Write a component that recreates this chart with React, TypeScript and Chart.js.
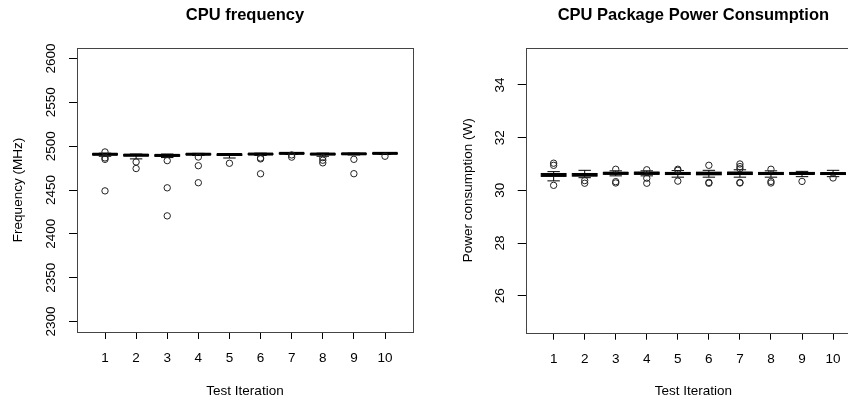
import React, { useEffect, useRef } from "react";
import { Chart, registerables } from "chart.js";

Chart.register(...registerables);

const FONT = "'Liberation Sans', Arial, Helvetica, sans-serif";

const iterations = [1, 2, 3, 4, 5, 6, 7, 8, 9, 10];

// CPU frequency (MHz) box statistics
const freqLow = [2488.5, 2485.5, 2487, 2489.5, 2486.5, 2489.5, 2490.5, 2488.5, 2490, 2490.5];
const freqQ1 = [2490, 2488.8, 2488.5, 2490.3, 2489.5, 2490.5, 2491.3, 2490.3, 2490.8, 2491.3];
const freqMedian = [2490.8, 2489.8, 2489.5, 2490.8, 2490.5, 2491, 2491.8, 2491, 2491.3, 2491.8];
const freqQ3 = [2491.5, 2490.5, 2490.2, 2491.3, 2491, 2491.5, 2492.2, 2491.5, 2491.7, 2492.2];
const freqHigh = [2492, 2491, 2491, 2491.8, 2491.5, 2492, 2492.5, 2492, 2492, 2492.5];
const freqOutliers = [
  [2493.4, 2486.6, 2485, 2449],
  [2482, 2474.5],
  [2483.5, 2452.5, 2420.5],
  [2487.6, 2477.7, 2458.3],
  [2480.5],
  [2486.5, 2485.5, 2468.5],
  [2490, 2487.5],
  [2487, 2484, 2481],
  [2485, 2468.6],
  [2488.5],
];
const freqTicks = [2300, 2350, 2400, 2450, 2500, 2550, 2600];

// CPU package power (W) box statistics
const powLow = [30.36, 30.48, 30.55, 30.55, 30.5, 30.5, 30.5, 30.5, 30.52, 30.52];
const powQ1 = [30.53, 30.54, 30.61, 30.61, 30.6, 30.59, 30.6, 30.6, 30.61, 30.6];
const powMedian = [30.58, 30.59, 30.65, 30.65, 30.64, 30.64, 30.65, 30.64, 30.64, 30.64];
const powQ3 = [30.64, 30.64, 30.68, 30.69, 30.68, 30.69, 30.69, 30.68, 30.68, 30.67];
const powHigh = [30.71, 30.76, 30.74, 30.74, 30.75, 30.76, 30.78, 30.74, 30.72, 30.76];
const powOutliers = [
  [31.03, 30.95, 30.19],
  [30.37, 30.27],
  [30.8, 30.33, 30.28],
  [30.78, 30.46, 30.27],
  [30.8, 30.76, 30.35],
  [30.95, 30.3, 30.27],
  [31.0, 30.9, 30.82, 30.3, 30.28],
  [30.8, 30.34, 30.28],
  [30.34],
  [30.47],
];
const powTicks = [26, 28, 30, 32, 34];

type Stats = { lo: number[]; q1: number[]; med: number[]; q3: number[]; hi: number[] };

function makeBoxPlugin(stats: Stats, title: string) {
  return {
    id: "boxes",
    beforeDatasetsDraw(chart: any) {
      const { ctx, chartArea, scales } = chart;
      const x = scales.x;
      const y = scales.y;
      ctx.save();
      ctx.beginPath();
      ctx.rect(chartArea.left, chartArea.top, chartArea.right - chartArea.left, chartArea.bottom - chartArea.top);
      ctx.clip();
      iterations.forEach((cat, i) => {
        const cx = x.getPixelForValue(cat);
        const hw = x.getPixelForValue(cat + 0.4) - cx;
        const sw = hw / 2;
        const yLo = y.getPixelForValue(stats.lo[i]);
        const yQ1 = y.getPixelForValue(stats.q1[i]);
        const yMed = y.getPixelForValue(stats.med[i]);
        const yQ3 = y.getPixelForValue(stats.q3[i]);
        const yHi = y.getPixelForValue(stats.hi[i]);
        ctx.strokeStyle = "#000";
        ctx.lineWidth = 1;
        ctx.setLineDash([4, 4]);
        ctx.beginPath();
        ctx.moveTo(cx, yHi);
        ctx.lineTo(cx, yQ3);
        ctx.moveTo(cx, yLo);
        ctx.lineTo(cx, yQ1);
        ctx.stroke();
        ctx.setLineDash([]);
        ctx.beginPath();
        ctx.moveTo(cx - sw, yHi);
        ctx.lineTo(cx + sw, yHi);
        ctx.moveTo(cx - sw, yLo);
        ctx.lineTo(cx + sw, yLo);
        ctx.stroke();
        ctx.fillStyle = "#fff";
        ctx.fillRect(cx - hw, yQ3, 2 * hw, yQ1 - yQ3);
        ctx.strokeRect(cx - hw, yQ3, 2 * hw, yQ1 - yQ3);
        ctx.lineWidth = 3;
        ctx.beginPath();
        ctx.moveTo(cx - hw, yMed);
        ctx.lineTo(cx + hw, yMed);
        ctx.stroke();
      });
      ctx.restore();
    },
    afterDraw(chart: any) {
      const { ctx, chartArea } = chart;
      ctx.save();
      ctx.strokeStyle = "#444";
      ctx.lineWidth = 1;
      ctx.strokeRect(
        Math.round(chartArea.left) + 0.5,
        Math.round(chartArea.top) + 0.5,
        Math.round(chartArea.right - chartArea.left),
        Math.round(chartArea.bottom - chartArea.top)
      );
      ctx.fillStyle = "#000";
      ctx.font = `bold 16.5px ${FONT}`;
      ctx.textAlign = "center";
      ctx.textBaseline = "alphabetic";
      ctx.fillText(title, (chartArea.left + chartArea.right) / 2, 19.5);
      ctx.restore();
    },
  };
}

type PanelProps = {
  left: number;
  width: number;
  padRight: number;
  yAxisWidth: number;
  xAxisHeight: number;
  yMin: number;
  yMax: number;
  yTicks: number[];
  yTickPad: number;
  yTitlePad: number;
  yTitle: string;
  title: string;
  stats: Stats;
  outliers: number[][];
};

function Panel(p: PanelProps) {
  const ref = useRef<HTMLCanvasElement>(null);
  useEffect(() => {
    if (!ref.current) return;
    const points: { x: number; y: number }[] = [];
    p.outliers.forEach((vals, i) => vals.forEach((v) => points.push({ x: iterations[i], y: v })));
    const tickFont = { family: FONT, size: 13.5 };
    const chart = new Chart(ref.current, {
      type: "scatter",
      data: {
        datasets: [
          {
            data: points,
            pointStyle: "circle",
            pointRadius: 3.2,
            pointBorderWidth: 1,
            pointBackgroundColor: "rgba(0,0,0,0)",
            pointBorderColor: "#222",
            showLine: false,
          } as any,
        ],
      },
      options: {
        responsive: false,
        animation: false,
        events: [],
        layout: { padding: { top: 48, right: p.padRight, bottom: 0, left: 0 } },
        plugins: { legend: { display: false }, tooltip: { enabled: false }, title: { display: false } },
        scales: {
          x: {
            type: "linear",
            min: 0.1,
            max: 10.9,
            afterBuildTicks: (s: any) => {
              s.ticks = iterations.map((v) => ({ value: v }));
            },
            afterFit: (s: any) => {
              s.height = p.xAxisHeight;
            },
            ticks: {
              autoSkip: false,
              maxRotation: 0,
              minRotation: 0,
              padding: 11.5,
              color: "#000",
              font: tickFont,
              callback: (v: any) => String(v),
            },
            grid: { drawOnChartArea: false, drawTicks: true, tickLength: 7, color: "#000", lineWidth: 1 },
            border: { display: false },
            title: {
              display: true,
              text: "Test Iteration",
              color: "#000",
              font: tickFont,
              padding: { top: 0, bottom: 5.2 },
            },
          },
          y: {
            type: "linear",
            min: p.yMin,
            max: p.yMax,
            afterBuildTicks: (s: any) => {
              s.ticks = p.yTicks.map((v) => ({ value: v }));
            },
            afterFit: (s: any) => {
              s.width = p.yAxisWidth;
            },
            ticks: {
              autoSkip: false,
              minRotation: 90,
              maxRotation: 90,
              crossAlign: "center",
              padding: p.yTickPad,
              color: "#000",
              font: tickFont,
              callback: (v: any) => String(v),
            },
            grid: { drawOnChartArea: false, drawTicks: true, tickLength: 8, color: "#000", lineWidth: 1 },
            border: { display: false },
            title: {
              display: true,
              text: p.yTitle,
              color: "#000",
              font: tickFont,
              padding: { top: p.yTitlePad, bottom: 0 },
            },
          },
        },
      } as any,
      plugins: [makeBoxPlugin(p.stats, p.title)],
    });
    return () => chart.destroy();
  }, []);
  return (
    <canvas
      ref={ref}
      width={p.width}
      height={405}
      style={{ position: "absolute", left: p.left, top: 0, width: p.width, height: 405, display: "block" }}
    />
  );
}

export default function App() {
  return (
    <div
      style={{
        position: "absolute",
        left: 0,
        top: 0,
        width: 848,
        height: 405,
        overflow: "hidden",
        background: "#fff",
      }}
    >
      <Panel
        left={0}
        width={424}
        padRight={11}
        yAxisWidth={77}
        xAxisHeight={73}
        yMin={2288}
        yMax={2612}
        yTicks={freqTicks}
        yTickPad={2.3}
        yTitlePad={9.9}
        yTitle="Frequency (MHz)"
        title="CPU frequency"
        stats={{ lo: freqLow, q1: freqQ1, med: freqMedian, q3: freqQ3, hi: freqHigh }}
        outliers={freqOutliers}
      />
      <Panel
        left={424}
        width={460}
        padRight={23}
        yAxisWidth={101.7}
        xAxisHeight={72.3}
        yMin={24.6}
        yMax={35.4}
        yTicks={powTicks}
        yTickPad={10.2}
        yTitlePad={35.9}
        yTitle="Power consumption (W)"
        title="CPU Package Power Consumption"
        stats={{ lo: powLow, q1: powQ1, med: powMedian, q3: powQ3, hi: powHigh }}
        outliers={powOutliers}
      />
    </div>
  );
}
